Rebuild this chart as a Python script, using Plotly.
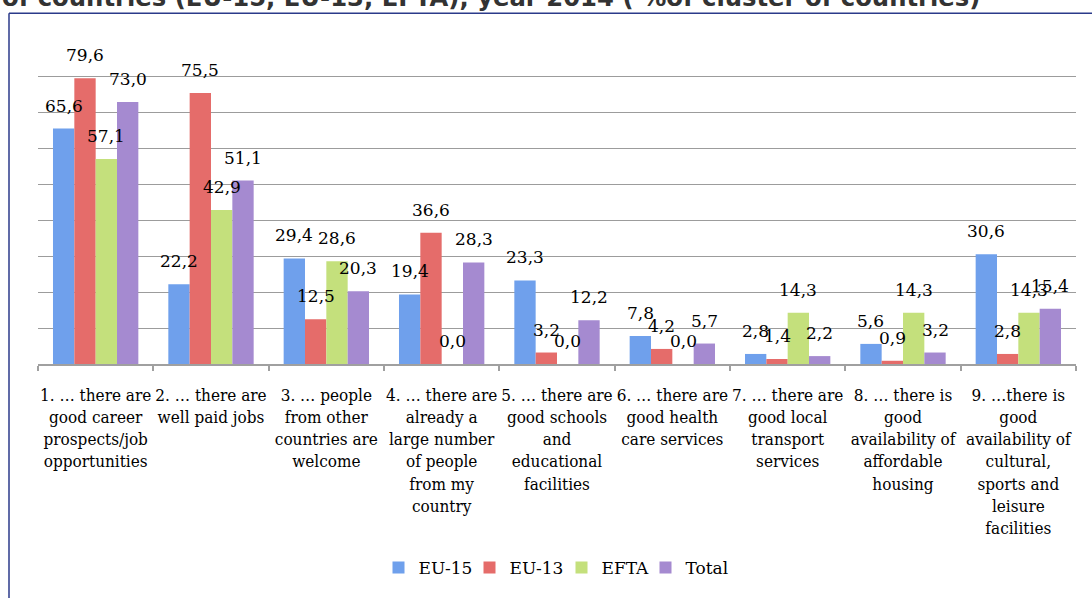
import plotly.graph_objects as go

# ---- data -------------------------------------------------------------
categories = [
    "1. … there are<br>good career<br>prospects/job<br>opportunities",
    "2. … there are<br>well paid jobs",
    "3. … people<br>from other<br>countries are<br>welcome",
    "4. … there are<br>already a<br>large number<br>of people<br>from my<br>country",
    "5. … there are<br>good schools<br>and<br>educational<br>facilities",
    "6. … there are<br>good health<br>care services",
    "7. … there are<br>good local<br>transport<br>services",
    "8. … there is<br>good<br>availability of<br>affordable<br>housing",
    "9. …there is<br>good<br>availability of<br>cultural,<br>sports and<br>leisure<br>facilities",
]
series_names = ["EU-15", "EU-13", "EFTA", "Total"]
eu15 = [65.6, 22.2, 29.4, 19.4, 23.3, 7.8, 2.8, 5.6, 30.6]
eu13 = [79.6, 75.5, 12.5, 36.6, 3.2, 4.2, 1.4, 0.9, 2.8]
efta = [57.1, 42.9, 28.6, 0.0, 0.0, 0.0, 14.3, 14.3, 14.3]
total = [73.0, 51.1, 20.3, 28.3, 12.2, 5.7, 2.2, 3.2, 15.4]
series_values = [eu15, eu13, efta, total]
title_text = "of countries (EU-15, EU-13, EFTA), year 2014 ( %of cluster of countries)"

# ---- styling ----------------------------------------------------------
colors = ["#6FA0EC", "#E56C6A", "#C4E07C", "#A58AD0"]
legend_widths = [46, 47, 39, 45]
W, H = 1092, 598
ML, MR, MT, MB = 38, 16, 41, 234
PLOT_W = W - ML - MR
PLOT_H = H - MT - MB
BARGAP = 0.26
SERIF = "DejaVu Serif"
SERIF_NARROW = "DejaVu Serif Condensed, DejaVu Serif"


def paper_x(px):
    return (px - ML) / PLOT_W


def paper_y(py):
    return (H - MB - py) / PLOT_H


def fmt(v):
    return f"{v:.1f}".replace(".", ",")


fig = go.Figure()
for name, vals, col, lw in zip(series_names, series_values, colors, legend_widths):
    fig.add_trace(go.Bar(
        name=name,
        x=list(range(len(categories))),
        y=vals,
        marker=dict(color=col, line=dict(width=0)),
        legendwidth=lw,
        hoverinfo="skip",
    ))

# value labels, centred above each bar of the group
n = len(series_names)
bw = (1 - BARGAP) / n
annotations = []
for i, vals in enumerate(series_values):
    off = -(1 - BARGAP) / 2 + (i + 0.5) * bw
    for j, v in enumerate(vals):
        annotations.append(dict(
            x=j + off, y=v, xref="x", yref="y",
            text=fmt(v), showarrow=False,
            xanchor="center", yanchor="bottom", yshift=11,
            font=dict(family=SERIF, size=17, color="#000000"),
        ))

# heading line running off the top of the page
annotations.append(dict(
    x=paper_x(0), y=paper_y(14), xref="paper", yref="paper",
    text=title_text, showarrow=False,
    xanchor="left", yanchor="bottom",
    font=dict(family="DejaVu Sans", size=24.3, color="#333333", weight=700),
))

# frame around the chart
frame_col = "#2B3A8A"
shapes = [
    dict(type="line", xref="paper", yref="paper",
         x0=paper_x(9), x1=paper_x(9), y0=paper_y(H), y1=paper_y(13.3),
         line=dict(color=frame_col, width=1.5)),
    dict(type="line", xref="paper", yref="paper",
         x0=paper_x(9), x1=paper_x(W), y0=paper_y(13.3), y1=paper_y(13.3),
         line=dict(color=frame_col, width=1.5)),
]

fig.update_layout(
    width=W, height=H,
    margin=dict(l=ML, r=MR, t=MT, b=MB, pad=0),
    paper_bgcolor="white", plot_bgcolor="white",
    barmode="group", bargap=BARGAP, bargroupgap=0,
    showlegend=True,
    legend=dict(
        orientation="h", x=0.5, xanchor="center",
        y=paper_y(568), yanchor="middle",
        font=dict(family=SERIF, size=17, color="#000000"),
        itemclick=False, itemdoubleclick=False,
    ),
    annotations=annotations,
    shapes=shapes,
    xaxis=dict(
        type="category",
        tickmode="array",
        tickvals=list(range(len(categories))),
        ticktext=categories,
        range=[-0.5, len(categories) - 0.5],
        tickangle=0,
        tickson="boundaries",
        ticks="outside", ticklen=5, tickcolor="#A0A0A0", tickwidth=1.5,
        showline=True, linecolor="#A0A0A0", linewidth=1.5,
        showgrid=False, zeroline=False,
        ticklabelstandoff=15,
        tickfont=dict(family=SERIF_NARROW, size=17, color="#000000"),
    ),
    yaxis=dict(
        range=[0, 90], dtick=10, tick0=0,
        showgrid=True, gridcolor="#9C9C9C", gridwidth=1.4,
        showticklabels=False, showline=False, zeroline=False, ticks="",
    ),
)

fig.write_html("out.html")
